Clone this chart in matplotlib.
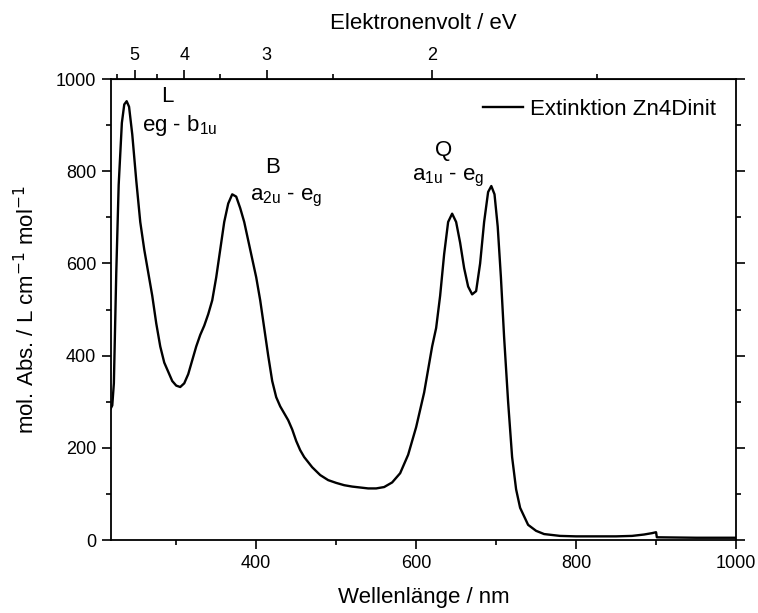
import numpy as np
import matplotlib.pyplot as plt
from matplotlib.ticker import MultipleLocator, FixedLocator

plt.rcParams['font.family'] = ['Liberation Sans', 'DejaVu Sans']

# Absorption spectrum (nm, L cm^-1 mol^-1)
wavelength = [218, 220, 222, 225, 228, 232, 235, 238, 241, 245, 250, 255, 260,
              265, 270, 275, 280, 285, 290, 295, 300, 305, 310, 315, 320, 325,
              330, 335, 340, 345, 350, 355, 360, 365, 370, 375, 380, 385, 390,
              395, 400, 405, 410, 415, 420, 425, 430, 435, 440, 445, 450, 455,
              460, 470, 480, 490, 500, 510, 520, 530, 540, 550, 560, 570, 580,
              590, 600, 610, 620, 625, 630, 635, 640, 645, 650, 655, 660, 665,
              670, 675, 680, 685, 690, 694, 698, 702, 706, 710, 715, 720, 725,
              730, 740, 750, 760, 780, 800, 850, 870, 885, 895, 900, 901, 950,
              1000]
extinction = [285, 292, 340, 580, 770, 905, 945, 952, 940, 880, 780, 690, 630,
              580, 530, 470, 420, 385, 365, 345, 335, 332, 340, 360, 390, 420,
              445, 465, 490, 520, 570, 630, 690, 730, 750, 745, 720, 690, 650,
              610, 570, 520, 460, 400, 345, 310, 290, 275, 260, 240, 215, 195,
              180, 158, 141, 130, 124, 119, 116, 114, 112, 112, 115, 125, 145,
              185, 245, 320, 420, 460, 530, 620, 690, 708, 690, 645, 590, 550,
              533, 540, 600, 690, 755, 768, 750, 680, 570, 440, 300, 180, 110,
              70, 33, 20, 13, 9, 8, 8, 9, 12, 15, 17, 6, 5, 5]

ev_major = [2, 3, 4, 5]
ev_minor = [1.5, 2.5, 3.5, 4.5, 5.5]

HC = 1239.84


def nm_to_ev(x):
    x = np.asarray(x, dtype=float)
    with np.errstate(divide='ignore'):
        return HC / x


fig = plt.figure(figsize=(7.58, 6.13), dpi=100)
ax = fig.add_axes([0.146, 0.119, 0.825, 0.752])

ax.plot(wavelength, extinction, color='black', linewidth=1.7, label='Extinktion Zn4Dinit')

ax.set_xlim(218, 1000)
ax.set_ylim(0, 1000)
ax.xaxis.set_major_locator(MultipleLocator(200))
ax.xaxis.set_minor_locator(MultipleLocator(100))
ax.yaxis.set_major_locator(MultipleLocator(200))
ax.yaxis.set_minor_locator(MultipleLocator(100))
ax.tick_params(which='both', direction='out', width=1.2, labelsize=13, right=True, pad=4)
ax.tick_params(which='major', length=6.5)
ax.tick_params(which='minor', length=3.5)
for sp in ax.spines.values():
    sp.set_linewidth(1.3)

ax.set_xlabel('Wellenlänge / nm', fontsize=16, labelpad=11)
ax.set_ylabel('mol. Abs. / L cm$^{-1}$ mol$^{-1}$', fontsize=16, labelpad=12)

top = ax.secondary_xaxis('top', functions=(nm_to_ev, nm_to_ev))
top.xaxis.set_major_locator(FixedLocator(ev_major))
top.xaxis.set_minor_locator(FixedLocator(ev_minor))
top.tick_params(which='both', direction='out', width=1.2, labelsize=13, pad=4)
top.tick_params(which='major', length=6.5)
top.tick_params(which='minor', length=3.5)
top.set_xlabel('Elektronenvolt / eV', fontsize=16, labelpad=13)

ax.legend(loc='upper right', frameon=False, fontsize=16, handlelength=1.8,
          handletextpad=0.3, borderaxespad=0.5)

ax.text(289, 963, 'L', fontsize=16, ha='center', va='center')
ax.text(257, 900, 'eg - b$_{\\mathregular{1u}}$', fontsize=16, va='center')
ax.text(420, 809, 'B', fontsize=16, ha='center', va='center')
ax.text(392, 742, 'a$_{\\mathregular{2u}}$ - e$_{\\mathregular{g}}$', fontsize=16, va='center')
ax.text(634, 846, 'Q', fontsize=16, ha='center', va='center')
ax.text(595, 785, 'a$_{\\mathregular{1u}}$ - e$_{\\mathregular{g}}$', fontsize=16, va='center')

fig.savefig('out.png', dpi=100)
